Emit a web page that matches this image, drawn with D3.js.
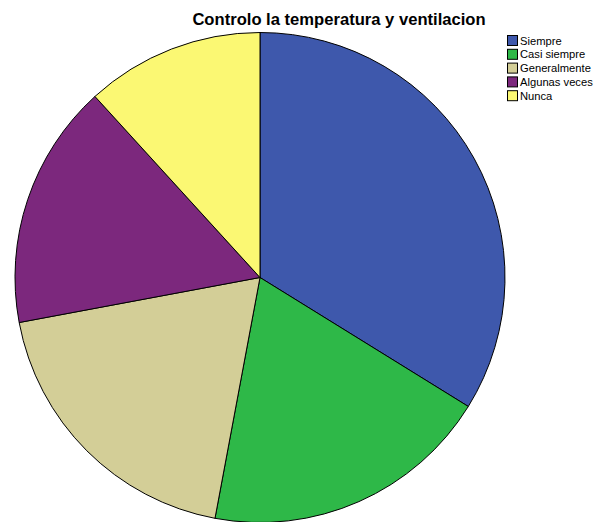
<!DOCTYPE html>
<html><head><meta charset="utf-8">
<script src="https://cdn.jsdelivr.net/npm/d3@7"></script>
<style>body{margin:0;background:#fff;}svg{display:block;}</style>
</head><body>
<svg id="c" width="601" height="522"></svg>
<script>
const categories = ["Siempre", "Casi siempre", "Generalmente", "Algunas veces", "Nunca"];
const values = [23, 13, 13, 11, 8];
const colors = ["#3E58AC", "#2EB848", "#D3CE97", "#7C287D", "#FBF873"];
const title = "Controlo la temperatura y ventilacion";

const svg = d3.select("#c");
const cx = 260, cy = 277.5, r = 245;

const pie = d3.pie().sort(null).value(d => d)(values);
const arc = d3.arc().innerRadius(0).outerRadius(r);

svg.append("g").attr("transform", `translate(${cx},${cy})`)
  .selectAll("path").data(pie).enter().append("path")
  .attr("d", arc)
  .attr("fill", (d, i) => colors[i])
  .attr("stroke", "#000").attr("stroke-width", 1).attr("stroke-linejoin", "round");

svg.append("text").attr("x", 339).attr("y", 25)
  .attr("text-anchor", "middle")
  .attr("font-family", "Liberation Sans, Arial, sans-serif")
  .attr("font-weight", "bold").attr("font-size", 16.6)
  .attr("fill", "#000").text(title);

const lg = svg.append("g").attr("font-family", "Liberation Sans, Arial, sans-serif").attr("font-size", 11.2);
categories.forEach((c, i) => {
  const y = 40.5 + i * 13.8;
  lg.append("rect").attr("x", 507.5).attr("y", y - 5).attr("width", 10).attr("height", 10)
    .attr("fill", colors[i]).attr("stroke", "#000").attr("stroke-width", 1);
  lg.append("text").attr("x", 520).attr("y", y + 4).attr("fill", "#000").text(c);
});
</script>
</body></html>
